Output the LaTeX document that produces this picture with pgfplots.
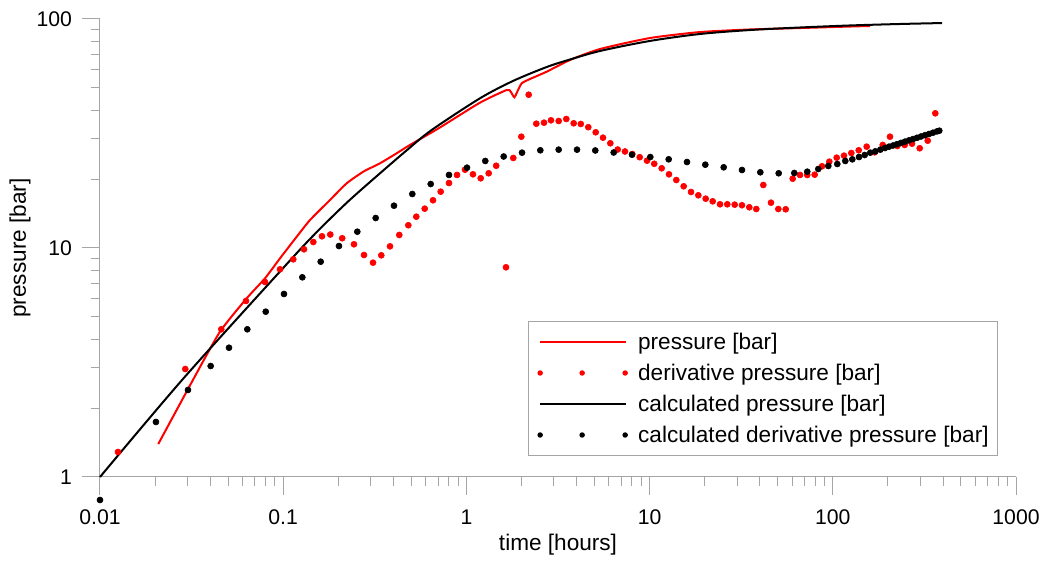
\documentclass[border=0pt]{standalone}
\usepackage{pgfplots}
\pgfplotsset{compat=1.18}
\usepackage{fontspec}
\setmainfont{Liberation Sans}
\definecolor{axgray}{RGB}{165,165,165}
\begin{document}
\begin{tikzpicture}
\useasboundingbox (-50pt,-42pt) rectangle (473.5pt,238.5pt);
\begin{axis}[
  at={(0,0)}, anchor=south west,
  scale only axis, width=458pt, height=229pt,
  xmode=log, ymode=log,
  xmin=0.01, xmax=1000, ymin=1, ymax=100,
  axis x line*=bottom, axis y line*=left,
  axis line style={axgray, line width=0.5pt, -},
  every tick/.style={axgray, line width=0.5pt},
  tick align=outside,
  major tick length=9pt, minor tick length=4.5pt,
  xtick={0.01,0.1,1,10,100,1000},
  xticklabels={0.01,0.1,1,10,100,1000},
  ytick={1,10,100}, yticklabels={1,10,100},
  tick label style={font=\fontsize{10.6}{12}\selectfont, black},
  xticklabel style={yshift=-4pt},
  yticklabel style={xshift=-1.5pt},
  every axis x label/.style={at={(axis description cs:0.5,-0.1485)}, anchor=center, font=\fontsize{11.3}{13}\selectfont},
  every axis y label/.style={at={(axis description cs:-0.0873,0.5)}, rotate=90, anchor=center, font=\fontsize{11.3}{13}\selectfont},
  xlabel={time [hours]}, ylabel={pressure [bar]},
  clip=false,
  legend style={at={(axis description cs:0.4672,0.3406)}, anchor=north west,
    draw=axgray, line width=0.5pt, fill=white,
    inner xsep=4.5pt, inner ysep=2.5pt, row sep=0pt,
    font=\fontsize{11.3}{13}\selectfont,
    nodes={inner xsep=0pt, inner ysep=1.5pt, text height=10pt, text depth=2.5pt},
    cells={anchor=west}},
]
% pressure [bar]
\addplot[red, line width=1pt, smooth, tension=0.35,
  legend image code/.code={\draw[red, line width=1pt] (0pt,0pt) -- (43pt,0pt); \path (48.5pt,0pt);}]
coordinates {
(0.0208,1.393) (0.03231,2.671) (0.04519,4.311) (0.06322,6.030) (0.07957,7.374)
(0.0961,9.016) (0.1185,11.20) (0.1401,13.25) (0.18,16.20) (0.2221,19.16)
(0.2737,21.54) (0.3377,23.44) (0.4164,25.92) (0.4921,28.18) (0.7024,33.25)
(1.186,43.11) (1.660,48.97) (1.745,48.14) (1.826,45.5) (1.896,48.14)
(2.004,52.39) (2.224,54.70) (2.744,58.88) (3.677,66.22) (5.36,73.96)
(10.05,82.6) (18.84,87.7) (35.32,90.0) (66.2,91.3) (124.1,92.7) (159.6,93.2)
};
\addlegendentry{pressure [bar]}
% derivative pressure [bar]
\addplot[only marks, mark=*, mark size=1.5pt, red, mark options={line width=0.3pt},
  legend image code/.code={\fill[red] (0pt,0pt) circle (1.1pt); \fill[red] (21pt,0pt) circle (1.1pt); \fill[red] (42.5pt,0pt) circle (1.1pt); \path (48.5pt,0pt);}]
coordinates {
(0.01254,1.286) (0.02921,2.962) (0.04593,4.416) (0.06266,5.871) (0.07957,7.105)
(0.0961,8.072) (0.1135,8.926) (0.1299,9.87) (0.146,10.62) (0.1628,11.25)
(0.1807,11.45) (0.2099,11.03) (0.2434,10.38) (0.2761,9.32) (0.3092,8.627)
(0.3431,9.29) (0.3828,10.17) (0.4302,11.40) (0.4818,12.57) (0.5328,13.70)
(0.5922,14.85) (0.6573,16.16) (0.7239,17.62) (0.8035,19.22) (0.8887,20.84)
(0.9826,21.98) (1.086,20.98) (1.197,20.16) (1.323,21.20) (1.454,22.86)
(1.645,8.237) (1.803,24.72) (1.994,30.62) (2.188,46.7) (2.407,34.9)
(2.652,35.26) (2.895,36.11) (3.19,35.86) (3.51,36.59) (3.853,35.04)
(4.212,34.80) (4.628,33.70) (5.08,32.01) (5.568,30.32) (6.103,28.66)
(6.697,26.92) (7.338,26.39) (8.046,25.73) (8.830,24.92) (9.678,24.06)
(10.60,23.32) (11.64,22.29) (12.76,20.98) (13.99,19.81) (15.35,18.60)
(16.83,17.56) (18.45,16.99) (20.24,16.42) (22.10,15.99) (24.23,15.52)
(26.56,15.52) (29.14,15.46) (31.94,15.37) (35.02,15.06) (38.23,14.80)
(41.75,18.84) (45.99,15.77) (50.42,14.80) (55.33,14.76) (60.4,20.07)
(66.22,20.84) (72.56,20.84) (79.63,20.90) (87.3,22.74) (95.7,23.82)
(105.0,24.80) (115.1,25.30) (126.2,25.99) (138.5,26.71) (153.1,27.70)
(169.3,26.18) (187.3,28.18) (205.2,30.62) (225.0,27.89) (246.9,28.18)
(270.6,28.55) (298.1,27.26) (329.6,29.42) (362.6,38.74)
};
\addlegendentry{derivative pressure [bar]}
% calculated pressure [bar]
\addplot[black, line width=1pt, smooth, tension=0.5,
  legend image code/.code={\draw[black, line width=1pt] (0pt,0pt) -- (43pt,0pt); \path (48.5pt,0pt);}]
coordinates {
(0.01,1.0) (0.02827,2.671) (0.0961,7.9) (0.1455,11.3) (0.2230,15.8)
(0.3377,21.2) (0.48,27.0) (0.6466,32.76) (1.186,45.05) (1.803,53.7)
(2.744,61.7) (3.599,66.2) (5.36,72.5) (10.05,80.2) (18.84,86.0)
(35.32,89.5) (66.2,91.8) (124.1,93.7) (232.7,95.1) (394.6,96.0)
};
\addlegendentry{calculated pressure [bar]}
% calculated derivative pressure [bar]
\addplot[only marks, mark=*, mark size=1.5pt, black, mark options={line width=0.3pt},
  legend image code/.code={\fill[black] (0pt,0pt) circle (1.1pt); \fill[black] (21pt,0pt) circle (1.1pt); \fill[black] (42.5pt,0pt) circle (1.1pt); \path (48.5pt,0pt);}]
coordinates {
(0.01,0.7937) (0.0202,1.739) (0.03022,2.399) (0.04020,3.053) (0.0506,3.669)
(0.0637,4.416) (0.0803,5.27) (0.1010,6.298) (0.1272,7.448) (0.1602,8.714)
(0.2016,10.20) (0.2538,11.78) (0.3198,13.52) (0.4025,15.30) (0.5067,17.21)
(0.6386,19.03) (0.8035,20.84) (1.0076,22.42) (1.268,23.99) (1.598,25.09)
(2.012,26.08) (2.532,26.71) (3.19,26.88) (4.016,26.88) (5.053,26.66)
(6.368,26.12) (8.015,25.55) (10.09,24.96) (12.71,24.39) (16.00,23.74)
(20.14,23.11) (25.38,22.51) (31.94,21.91) (40.21,21.41) (50.67,21.20)
(61.65,21.26) (72.56,21.54) (83.33,22.13) (94.5,22.81) (105.8,23.27)
(117.0,23.99) (127.8,24.39) (139.0,24.96) (149.3,25.47) (160.2,26.08)
(170.6,26.44) (181.7,26.88) (192.7,27.33) (202.7,27.70) (213.1,28.03)
(224.1,28.40) (235.6,28.77) (247.9,29.15) (260.6,29.51) (274.1,29.90)
(288.2,30.28) (303.0,30.68) (318.6,31.09) (335.0,31.46) (352.3,31.87)
(370.4,32.30) (381.3,32.52)
};
\addlegendentry{calculated derivative pressure [bar]}
\end{axis}
\end{tikzpicture}
\end{document}
